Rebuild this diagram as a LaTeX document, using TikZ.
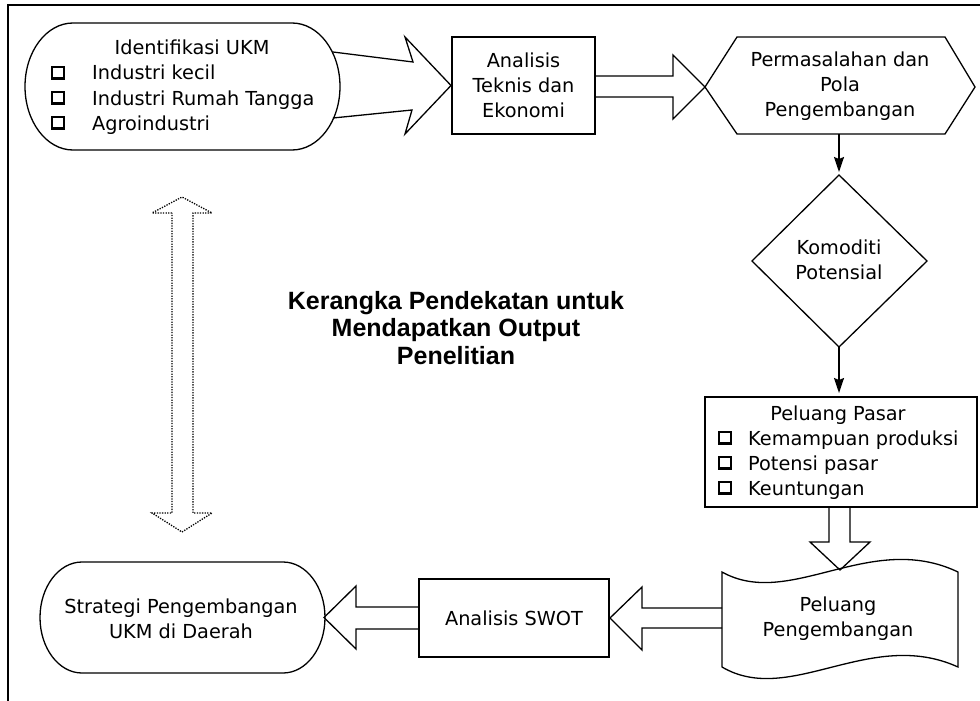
\documentclass[tikz,border=0pt]{standalone}
\usepackage{fontspec}
\setmainfont{DejaVu Sans}
\newfontfamily\titlefont{Liberation Sans}
\usetikzlibrary{arrows.meta}
\begin{document}
\begin{tikzpicture}[x=1pt,y=-1pt,
  txt/.style={font=\fontsize{19.3}{25}\selectfont, inner sep=0pt, align=center},
  itm/.style={font=\fontsize{19.3}{25}\selectfont, inner sep=0pt, anchor=base west},
  thinl/.style={line width=1.3pt},
  boxl/.style={draw, line width=2pt, inner sep=0pt},
  blk/.style={line width=1.3pt, line join=miter},
  ptr/.style={line width=1.6pt, -{Stealth[width=10pt,length=15pt,inset=2pt]}, shorten >=3pt},
  dotl/.style={line width=1.3pt, dash pattern=on 1.3pt off 1.3pt},
  bsq/.pic={\draw[line width=1.5pt] (-6,-6) rectangle (6,6);
            \draw[line width=3pt] (-6.5,5.5) -- (6.5,5.5);}
]
\useasboundingbox (0,0) rectangle (980,701);

% frame
\draw[line width=2pt] (8,701) -- (8,5) -- (980,5);

% Identifikasi UKM (terminator)
\draw[thinl] (73,23) -- (292,23) arc[start angle=-90,end angle=90,x radius=48,y radius=63.5]
  -- (73,150) arc[start angle=90,end angle=270,x radius=48,y radius=63.5] -- cycle;
\node[txt, anchor=base] (idt) at (192,55) {Identifikasi UKM};
\node[itm] (id1) at (92,80) {Industri kecil};
\node[itm] (id2) at (92,105) {Industri Rumah Tangga};
\node[itm] (id3) at (92,130) {Agroindustri};
\pic at (58,73) {bsq};
\pic at (58,98) {bsq};
\pic at (58,123) {bsq};

% Analisis Teknis dan Ekonomi
\node[boxl, txt, minimum width=143, minimum height=97] (ana) at (523.5,85.5)
  {Analisis\\Teknis dan\\Ekonomi};

% block arrow Identifikasi -> Analisis
\draw[blk] (333,52) -- (413,62) -- (405,37) -- (ana.west) -- (405,134) -- (412,110) -- (333,118);

% Permasalahan (hexagon)
\coordinate (hexl) at (705,87);
\coordinate (hexb) at (839,134);
\draw[thinl] (hexl) -- (737,37) -- (945,37) -- (975,87) -- (945,134) -- (737,134) -- cycle;
\node[txt] (perm) at (840,86) {Permasalahan dan\\Pola\\Pengembangan};

% block arrow Analisis -> Permasalahan
\draw[blk] (595,76) -- (673,76) -- (673,55) -- (hexl) -- (673,119) -- (673,97) -- (595,97);

% Komoditi Potensial (diamond)
\coordinate (dtop) at (839,175);
\coordinate (dbot) at (839,347);
\draw[thinl] (dtop) -- (927,261) -- (dbot) -- (752,261) -- cycle;
\node[txt] (kom) at (839,260) {Komoditi\\Potensial};
\draw[ptr] (hexb) -- (dtop);

% Peluang Pasar
\node[boxl, minimum width=272, minimum height=110] (pp) at (841,452) {};
\draw[ptr] (dbot) -- (dbot |- pp.north);
\node[txt, anchor=base] (ppt) at (838,420) {Peluang Pasar};
\node[itm] (pp1) at (748,445) {Kemampuan produksi};
\node[itm] (pp2) at (748,470) {Potensi pasar};
\node[itm] (pp3) at (748,495) {Keuntungan};
\pic at (725,438) {bsq};
\pic at (725,463) {bsq};
\pic at (725,488) {bsq};

% Peluang Pengembangan (document)
\draw[thinl] (722,572) .. controls (790,610) and (870,530) .. (958,572) -- (958,667)
  .. controls (870,627) and (790,707) .. (722,667) -- cycle;
\node[txt] (peng) at (838,619) {Peluang\\Pengembangan};

% block arrow Peluang Pasar -> Peluang Pengembangan
\draw[blk] (829,507) -- (829,542) -- (810,542) -- (840,570) -- (870,542) -- (850,542) -- (850,507);

% Analisis SWOT
\node[boxl, txt, minimum width=190, minimum height=78] (swot) at (514,618) {Analisis SWOT};

% block arrow Peluang Pengembangan -> SWOT
\draw[blk] (722,608) -- (642,608) -- (642,587) -- (swot.east) -- (642,650) -- (642,628) -- (722,628);

% Strategi (terminator)
\draw[thinl] (82,562) -- (283,562) arc[start angle=-90,end angle=90,x radius=42,y radius=55.5]
  -- (82,673) arc[start angle=90,end angle=270,x radius=42,y radius=55.5] -- cycle;
\node[txt] (strat) at (181,619) {Strategi Pengembangan\\UKM di Daerah};

% block arrow SWOT -> Strategi
\draw[blk] (swot.west |- 0,607) -- (356,607) -- (356,586) -- (324,617.5) -- (356,649) -- (356,629) -- (swot.west |- 0,629);

% dotted double arrow
\draw[dotl] (172,213) -- (152,213) -- (182,197) -- (212,213) -- (193,213) -- (193,513)
  -- (212,513) -- (182,532) -- (152,513) -- (172,513) -- cycle;

% title
\node[font=\titlefont\bfseries\fontsize{25}{27.5}\selectfont, align=center, inner sep=0pt]
  (title) at (456,328) {Kerangka Pendekatan untuk\\Mendapatkan Output\\Penelitian};
\end{tikzpicture}
\end{document}
